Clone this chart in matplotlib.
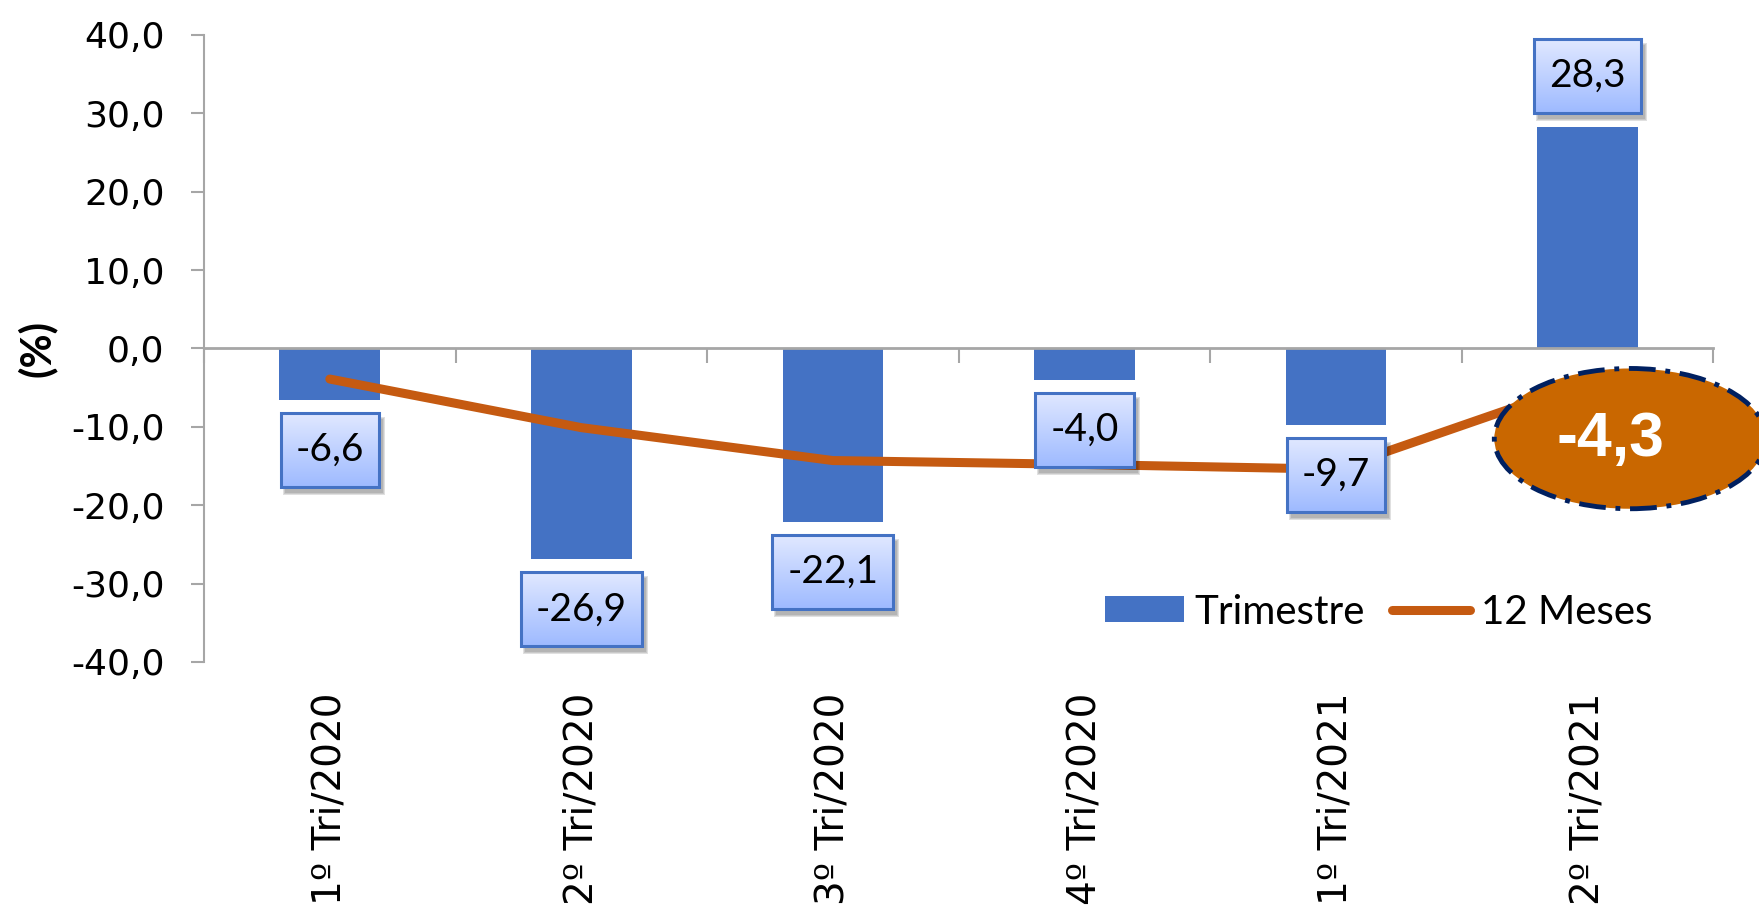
import numpy as np
import matplotlib
matplotlib.use('Agg')
import matplotlib.pyplot as plt
import matplotlib.transforms as mtransforms
from matplotlib.patches import Ellipse, Rectangle

# Dados: variação (%) por trimestre e acumulado em 12 meses
categorias = ['1º Tri/2020', '2º Tri/2020', '3º Tri/2020',
              '4º Tri/2020', '1º Tri/2021', '2º Tri/2021']
trimestre = [-6.6, -26.9, -22.1, -4.0, -9.7, 28.3]
doze_meses = [-3.9, -10.1, -14.3, -14.8, -15.4, -4.3]
y_ticks = [-40, -30, -20, -10, 0, 10, 20, 30, 40]

AZUL = '#4472C4'
LARANJA = '#C55A11'
CINZA = '#A6A6A6'


def fmt(v):
    return f'{v:.1f}'.replace('.', ',')


fig = plt.figure(figsize=(17.59, 9.23), dpi=100)
ax = fig.add_axes([0.1160, 0.2828, 0.8579, 0.6793])

x = np.arange(len(categorias))
barras = ax.bar(x, trimestre, width=0.4, color=AZUL, zorder=2, label='Trimestre')
linha, = ax.plot(x, doze_meses, color=LARANJA, lw=6.5, solid_capstyle='round',
                 solid_joinstyle='round', zorder=3, label='12 Meses')

ax.set_xlim(-0.5, 5.5)
ax.set_ylim(-40, 40)

# eixo Y
ax.set_yticks(y_ticks)
ax.set_yticklabels([fmt(v) for v in y_ticks], fontsize=26, family='DejaVu Sans')
ax.tick_params(axis='y', direction='out', length=9.5, width=1.5, color=CINZA, pad=19)
ax.set_ylabel('(%)', fontsize=30, fontweight='bold', family='Lato')
ax.yaxis.set_label_coords(-0.111, 0.5)
ax.yaxis.label.set_va('center')

# eixo X passando pelo zero, marcas entre as categorias
ax.spines['top'].set_visible(False)
ax.spines['right'].set_visible(False)
ax.spines['left'].set_color(CINZA)
ax.spines['left'].set_linewidth(1.5)
ax.spines['bottom'].set_position(('data', 0))
ax.spines['bottom'].set_color(CINZA)
ax.spines['bottom'].set_linewidth(2)
ax.set_xticks(np.arange(-0.5, 6, 1))
ax.set_xticklabels([])
ax.tick_params(axis='x', direction='out', length=11, width=1.5, color=CINZA)

trans = mtransforms.blended_transform_factory(ax.transData, ax.transAxes)
for i, c in enumerate(categorias):
    ax.text(i, -0.049, c, transform=trans, rotation=90, ha='center', va='top',
            fontsize=28, family='DejaVu Sans')

# rótulos de dados (as caixas são desenhadas depois do primeiro draw)
rotulos = []
for i, v in enumerate(trimestre):
    dy = 51 if v > 0 else -50
    a = ax.annotate(fmt(v), xy=(i, v), xytext=(0, dy), textcoords='offset pixels',
                    ha='center', va='center', fontsize=28, family='Lato', zorder=7)
    rotulos.append(a)

# legenda
leg = ax.legend([barras, linha], ['Trimestre', '12 Meses'], ncol=2, loc='center left',
                bbox_to_anchor=(1105 / 1759, 1 - 612 / 923), bbox_transform=fig.transFigure,
                frameon=False, prop={'family': 'Lato', 'size': 29}, handlelength=1.95,
                handleheight=0.62, handletextpad=0.27, columnspacing=0.67,
                borderpad=0, borderaxespad=0)

# destaque do último valor em 12 meses
elipse = Ellipse((5.17, -11.5), 1.08, 17.9, fc='#C96700', ec='#002060', lw=3.5,
                 ls=(0, (5.5, 2, 1, 2)), zorder=8, clip_on=False)
ax.add_patch(elipse)
ax.text(5.09, -11.6, fmt(doze_meses[-1]), ha='center', va='center', color='white',
        fontsize=45, fontweight='bold', family='Liberation Sans', zorder=9)

# caixas dos rótulos: degradê, borda e sombra
fig.canvas.draw()
renderer = fig.canvas.get_renderer()
inv = ax.transData.inverted()
ident = mtransforms.IdentityTransform()
grad = np.linspace(0, 1, 64).reshape(-1, 1)
topo = np.array([0.88, 0.91, 1.0])
base = np.array([0.62, 0.73, 1.0])
img = topo + (base - topo) * grad[:, :, None]
for a in rotulos:
    tb = a.get_window_extent(renderer)
    cx = (tb.x0 + tb.x1) / 2
    cy = (tb.y0 + tb.y1) / 2
    w = tb.width + 30
    h = 74
    bx0, by0 = cx - w / 2, cy - h / 2
    for k, al in enumerate([0.10, 0.10, 0.12]):
        off = k
        ax.add_patch(Rectangle((bx0 + 4 - off, by0 - 6 - off), w + 2 * off, h + 2 * off,
                               transform=ident, fc='black', ec='none', alpha=al, zorder=4))
    (x0, y0), (x1, y1) = inv.transform([(bx0, by0), (bx0 + w, by0 + h)])
    ax.imshow(img, extent=[x0, x1, y0, y1], aspect='auto', zorder=5,
              interpolation='bilinear', origin='upper')
    ax.add_patch(Rectangle((bx0, by0), w, h, transform=ident, fc='none', ec=AZUL,
                           lw=2.2, zorder=6))

ax.set_xlim(-0.5, 5.5)
ax.set_ylim(-40, 40)

fig.savefig('out.png', dpi=100)
